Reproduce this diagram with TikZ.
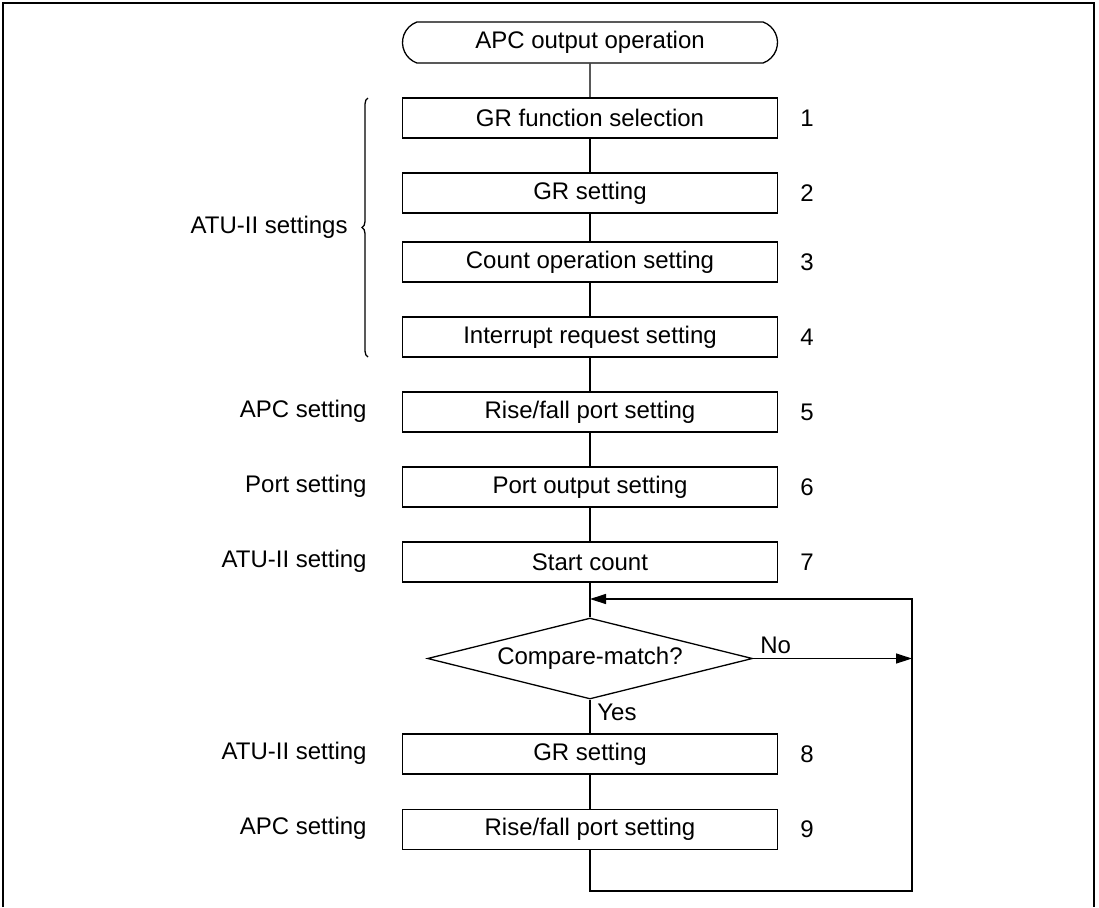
\documentclass[tikz,border=0pt]{standalone}
\usepackage{fontspec}
\setmainfont{Liberation Sans}
\usetikzlibrary{shapes.geometric,shapes.misc,arrows.meta,decorations.pathreplacing}
\begin{document}
\begin{tikzpicture}[x=0.5pt,y=-0.5pt,
  every node/.style={font=\fontsize{12}{14.4}\selectfont},
  proc/.style={draw, line width=0.65pt, minimum width=187.5pt, minimum height=20pt, inner sep=0pt},
  term/.style={draw, line width=0.65pt, rounded rectangle, rounded rectangle arc length=140, minimum width=187.5pt, minimum height=20.5pt, inner sep=0pt},
  dec/.style={draw, line width=0.65pt, diamond, aspect=4, minimum width=162.5pt, minimum height=40.5pt, inner sep=0pt},
  conn/.style={line width=0.65pt},
  arr/.style={line width=0.65pt, -{Triangle[length=8pt,width=5pt]}},
  num/.style={anchor=center, inner sep=0pt},
  side/.style={anchor=east, inner sep=0pt},
  lbl/.style={anchor=base west, inner sep=0pt},
]
\useasboundingbox (0,0) rectangle (1099,907);
\draw[line width=1pt] (3,907) -- (3,3) -- (1094,3) -- (1094,907);

\node[term] (t) at (590,42.5) {APC output operation};
\node[proc] (b1) at (590,118) {GR function selection};
\node[proc] (b2) at (590,193) {GR setting};
\node[proc] (b3) at (590,262) {Count operation setting};
\node[proc] (b4) at (590,337) {Interrupt request setting};
\node[proc] (b5) at (590,412) {Rise/fall port setting};
\node[proc] (b6) at (590,487) {Port output setting};
\node[proc] (b7) at (590,562) {Start count};
\node[dec]  (d)  at (590,658.5) {Compare-match?};
\node[proc] (b8) at (590,754) {GR setting};
\node[proc] (b9) at (590,829.5) {Rise/fall port setting};

\node[num] (n1) at (807,118) {1};
\node[num] (n2) at (807,193) {2};
\node[num] (n3) at (807,262) {3};
\node[num] (n4) at (807,337) {4};
\node[num] (n5) at (807,412) {5};
\node[num] (n6) at (807,487) {6};
\node[num] (n7) at (807,562) {7};
\node[num] (n8) at (807,754) {8};
\node[num] (n9) at (807,829.5) {9};

\node[side] (s0) at (348,227.5) {ATU-II settings};
\node[side] (s5) at (367,411) {APC setting};
\node[side] (s6) at (367,486) {Port setting};
\node[side] (s7) at (367,561) {ATU-II setting};
\node[side] (s8) at (367,753) {ATU-II setting};
\node[side] (s9) at (367,828.5) {APC setting};

\coordinate (bt) at (368,98);
\coordinate (bb) at (368,357);
\draw[conn, decorate, decoration={brace, amplitude=3pt}] (bb) -- (bt);

\draw[conn] (t) -- (b1);
\draw[conn] (b1) -- (b2);
\draw[conn] (b2) -- (b3);
\draw[conn] (b3) -- (b4);
\draw[conn] (b4) -- (b5);
\draw[conn] (b5) -- (b6);
\draw[conn] (b6) -- (b7);
\draw[conn] (b7) -- (d);
\draw[conn] (d) -- (b8);
\draw[conn] (b8) -- (b9);

\coordinate (lb) at (590,891);
\coordinate (rb) at (912,891);
\coordinate (rt) at (912,599);
\coordinate (lt) at (590,599);
\draw[arr] (b9.south) -- (lb) -- (rb) -- (rt) -- (lt);

\coordinate (nr) at (912,658.5);
\draw[arr] (d.east) -- (nr);
\node[lbl] (no) at (760,653) {No};
\node[lbl] (yes) at (597,720) {Yes};
\end{tikzpicture}
\end{document}
